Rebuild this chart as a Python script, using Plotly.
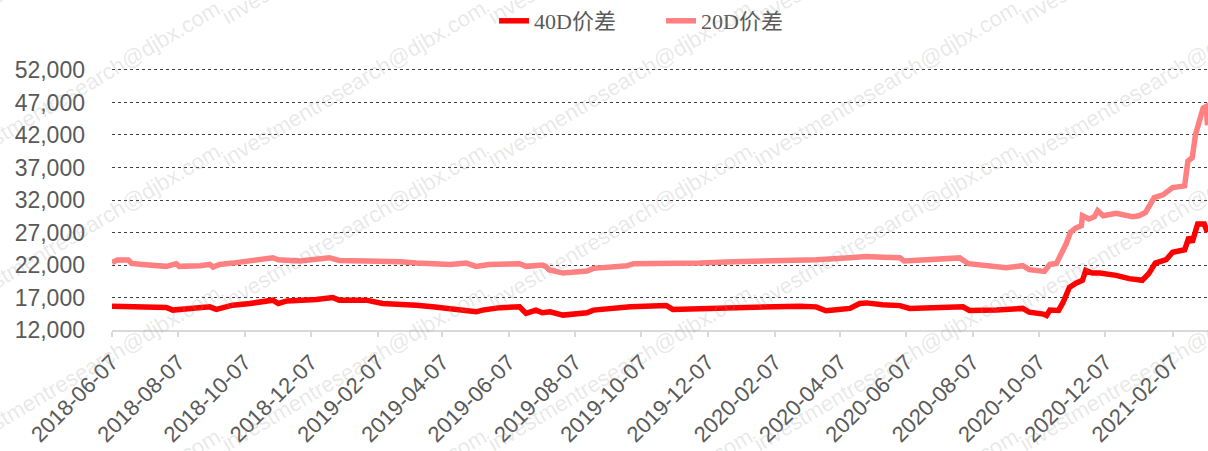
import plotly.graph_objects as go

# ---------------- data ----------------
dates_40d = [
    "2018-06-07", "2018-06-26", "2018-07-27", "2018-08-02", "2018-08-27", "2018-09-05",
    "2018-09-11", "2018-09-26", "2018-10-12", "2018-10-27", "2018-11-02", "2018-11-07",
    "2018-11-15", "2018-12-12", "2018-12-27", "2019-01-02", "2019-01-27", "2019-02-11",
    "2019-02-27", "2019-03-14", "2019-03-29", "2019-04-14", "2019-04-29", "2019-05-08",
    "2019-05-14", "2019-05-30", "2019-06-17", "2019-06-23", "2019-07-02", "2019-07-08",
    "2019-07-15", "2019-07-27", "2019-08-18", "2019-08-24", "2019-09-27", "2019-10-30",
    "2019-11-05", "2019-11-30", "2019-12-31", "2020-01-31", "2020-03-01", "2020-03-16",
    "2020-03-25", "2020-04-01", "2020-04-16", "2020-04-25", "2020-05-01", "2020-05-16",
    "2020-06-01", "2020-06-10", "2020-07-29", "2020-08-04", "2020-08-29", "2020-09-22",
    "2020-09-28", "2020-10-11", "2020-10-14", "2020-10-17", "2020-10-25", "2020-10-29",
    "2020-11-04", "2020-11-10", "2020-11-16", "2020-11-19", "2020-11-25", "2020-12-02",
    "2020-12-17", "2020-12-29", "2021-01-10", "2021-01-16", "2021-01-22", "2021-02-01",
    "2021-02-07", "2021-02-18", "2021-02-22", "2021-02-25", "2021-03-02", "2021-03-08",
    "2021-03-11",
]
values_40d = [
    15670, 15560, 15470, 15060, 15320, 15560,
    15170, 15820, 16080, 16430, 16590, 16080,
    16480, 16690, 17000, 16590, 16590, 16080,
    15980, 15820, 15560, 15320, 14950, 14800,
    15060, 15440, 15560, 14550, 15060, 14650,
    14800, 14290, 14650, 15060, 15560, 15780,
    15170, 15320, 15410, 15560, 15670, 15560,
    14950, 15060, 15320, 16080, 16170, 15900,
    15750, 15320, 15560, 15010, 15060, 15320,
    14750, 14450, 14220, 15060, 15010, 16200,
    18570, 19190, 19650, 21170, 20760, 20760,
    20410, 19900, 19650, 20670, 22290, 22810,
    23970, 24340, 26270, 25500, 28310, 28310,
    27030,
]

dates_20d = [
    "2018-06-07", "2018-06-12", "2018-06-22", "2018-06-25", "2018-07-05", "2018-07-27",
    "2018-08-05", "2018-08-08", "2018-08-27", "2018-09-05", "2018-09-08", "2018-09-14",
    "2018-09-26", "2018-10-12", "2018-11-02", "2018-11-07", "2018-11-15", "2018-11-27",
    "2018-12-24", "2019-01-02", "2019-01-27", "2019-02-11", "2019-02-27", "2019-03-14",
    "2019-03-29", "2019-04-14", "2019-04-29", "2019-05-08", "2019-05-20", "2019-05-30",
    "2019-06-17", "2019-06-23", "2019-07-02", "2019-07-08", "2019-07-11", "2019-07-14",
    "2019-07-27", "2019-08-18", "2019-08-24", "2019-09-24", "2019-09-30", "2019-10-30",
    "2019-11-30", "2019-12-31", "2020-01-31", "2020-03-01", "2020-03-16", "2020-04-16",
    "2020-05-01", "2020-05-16", "2020-06-01", "2020-06-05", "2020-06-28", "2020-07-26",
    "2020-08-03", "2020-08-29", "2020-09-07", "2020-09-22", "2020-09-28", "2020-10-12",
    "2020-10-17", "2020-10-23", "2020-10-28", "2020-11-01", "2020-11-05", "2020-11-10",
    "2020-11-15", "2020-11-16", "2020-11-22", "2020-11-27", "2020-11-30", "2020-12-05",
    "2020-12-17", "2021-01-01", "2021-01-07", "2021-01-13", "2021-01-21", "2021-01-29",
    "2021-02-07", "2021-02-18", "2021-02-21", "2021-02-25", "2021-02-28", "2021-03-04",
    "2021-03-07", "2021-03-10", "2021-03-11",
]
values_20d = [
    22400, 22780, 22780, 22240, 22090, 21790,
    22200, 21790, 21890, 22090, 21680, 22090,
    22290, 22600, 23120, 22810, 22810, 22600,
    23120, 22700, 22600, 22600, 22500, 22290,
    22200, 22090, 22290, 21790, 22090, 22170,
    22200, 21790, 21980, 21980, 21790, 21280,
    20760, 21070, 21480, 21890, 22200, 22200,
    22290, 22500, 22600, 22600, 22810, 23120,
    23310, 23210, 23120, 22630, 22810, 23090,
    22200, 21790, 21590, 21890, 21280, 21020,
    22090, 22240, 23730, 25260, 27030, 27700,
    28050, 29580, 29080, 29430, 30350, 29580,
    29940, 29430, 29580, 30090, 32380, 32790,
    33910, 34170, 37990, 38500, 42080, 44610,
    46140, 46400, 43500,
]

series_names = ["40D价差", "20D价差"]
x_tick_labels = [
    "2018-06-07", "2018-08-07", "2018-10-07", "2018-12-07", "2019-02-07", "2019-04-07",
    "2019-06-07", "2019-08-07", "2019-10-07", "2019-12-07", "2020-02-07", "2020-04-07",
    "2020-06-07", "2020-08-07", "2020-10-07", "2020-12-07", "2021-02-07",
]
y_min, y_max, y_step = 12000, 52000, 5000
watermark_text = "investmentresearch@djbx.com"

# ---------------- figure ----------------
W, H = 1208, 451
ML, MR, MT, MB = 112, 0, 67, 121
PW, PH = W - ML - MR, H - MT - MB
# keep the top gridline 2px inside the plot so it is drawn
px_per_unit = (H - MB - 69) / (y_max - y_min)
y_top = y_max + 2 / px_per_unit

fig = go.Figure()
fig.add_trace(go.Scatter(x=dates_40d, y=values_40d, mode="lines", name=series_names[0],
                         line=dict(color="#FF0000", width=5.5)))
fig.add_trace(go.Scatter(x=dates_20d, y=values_20d, mode="lines", name=series_names[1],
                         line=dict(color="#FF8080", width=5.5)))

font_sans = "Liberation Sans, Arial, sans-serif"
ytick_font = dict(family=font_sans, size=23, color="#595959")
xtick_font = dict(family=font_sans, size=22, color="#595959")

# faint diagonal watermark (tiled)
annotations = []
for i in range(-1, 6):
    for j in range(-1, 4):
        cx = 88 + 266 * i
        cy = 83 + 143 * j
        annotations.append(dict(
            x=(cx - ML) / PW, y=(H - MB - cy) / PH, xref="paper", yref="paper",
            text=watermark_text, showarrow=False, textangle=-30.6,
            xanchor="center", yanchor="middle",
            font=dict(family=font_sans, size=22, color="rgba(150,150,150,0.22)"),
        ))

fig.update_layout(
    width=W, height=H, autosize=False,
    margin=dict(l=ML, r=MR, t=MT, b=MB, pad=0),
    paper_bgcolor="white", plot_bgcolor="white",
    showlegend=True,
    legend=dict(orientation="h", x=(494 - ML) / PW, xanchor="left",
                y=1 + (MT - 20) / PH, yanchor="middle",
                font=dict(family="Liberation Serif, Noto Sans CJK SC, serif", size=22, color="#595959"),
                bgcolor="rgba(0,0,0,0)", itemwidth=30, entrywidth=122, entrywidthmode="pixels"),
    xaxis=dict(type="date", range=["2018-06-07", "2021-03-11 12:00"],
               tickmode="array", tickvals=x_tick_labels, ticktext=x_tick_labels,
               tickangle=-45, tickfont=xtick_font,
               showgrid=False, zeroline=False,
               showline=True, linecolor="#d9d9d9", linewidth=1.5,
               ticks="outside", ticklen=5, tickcolor="#d9d9d9", tickwidth=1.5,
               ticklabelstandoff=4, automargin=False),
    yaxis=dict(range=[y_min, y_top], tick0=y_min, dtick=y_step, tickformat=",d",
               tickfont=ytick_font, showgrid=True, gridcolor="#404040", griddash="dot",
               gridwidth=1, zeroline=False, showline=False, ticks="",
               ticklabelstandoff=26, automargin=False),
    annotations=annotations,
)

fig.write_html("out.html")
